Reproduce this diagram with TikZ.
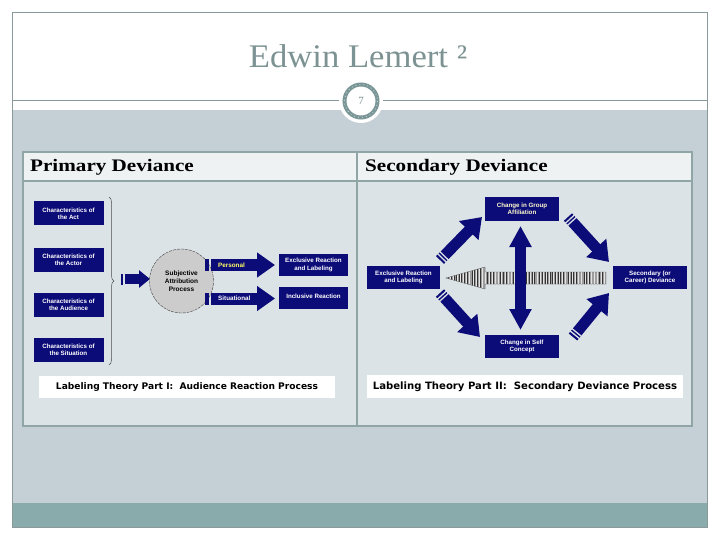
\documentclass[tikz,border=0pt]{standalone}
\usepackage{fontspec}
\setmainfont{Liberation Serif}
\newfontfamily\dsans{Liberation Sans}
\newfontfamily\capfont{DejaVu Sans}
\usetikzlibrary{calc,decorations.pathreplacing,arrows.meta}
\definecolor{navy}{HTML}{0C0C78}
\definecolor{band}{HTML}{C5D0D6}
\definecolor{teal}{HTML}{8AABAB}
\definecolor{frame}{HTML}{8A9A9A}
\definecolor{tabline}{HTML}{8FA5A6}
\definecolor{headfill}{HTML}{EEF2F3}
\definecolor{cellfill}{HTML}{DCE3E6}
\definecolor{titlecol}{HTML}{7D9393}
\definecolor{ringcol}{HTML}{7A9696}
\definecolor{yel}{HTML}{FFFF66}
\tikzset{
  navybox/.style={fill=navy, text=white, font=\dsans\bfseries\fontsize{6.2}{7.2}\selectfont, align=center, inner sep=0pt},
  caption/.style={fill=white, inner sep=0pt},
  header/.style={font=\bfseries\fontsize{17.6}{19}\selectfont, anchor=base west, inner sep=0pt},
  fat/.style={navy, line width=12pt, -{Triangle[width=24pt,length=18pt]}},
  diag/.style={navy, line width=11pt, -{Triangle[width=26pt,length=19pt]}},
  stripes/.style={cellfill, line width=13pt, dash pattern=on 0pt off 2.2pt on 1.3pt off 1.7pt on 1.3pt off 200pt},
  lbl/.style={font=\dsans\bfseries\fontsize{6.3}{7.5}\selectfont, anchor=west, inner sep=0pt},
}
\begin{document}
\begin{tikzpicture}[x=1pt,y=-1pt]
\useasboundingbox (0,0) rectangle (720,540);
\fill[white] (0,0) rectangle (720,540);
% slide frame and bands
\fill[band] (12,110) rectangle (707,503);
\fill[teal] (12,503) rectangle (707,527);
\draw[frame, line width=0.8pt] (12,12) rectangle (707,527);
\draw[frame, line width=0.8pt] (12,100) -- (707,100);
% title
\node[font=\fontsize{33}{36}\selectfont, text=titlecol, anchor=base] (title) at (358,68) {\scalebox{1.05}[1]{Edwin Lemert ²}};
% page number circle
\fill[white] (361,101) circle (22);
\draw[ringcol, line width=4pt] (361,101) circle (16.5);
\draw[white!70!ringcol, line width=0.6pt, dash pattern=on 1pt off 3pt] (361,101) circle (16.5);
\node[font=\fontsize{11}{12}\selectfont, text=titlecol] (pnum) at (361,101) {7};
% table
\fill[headfill] (23,152) rectangle (692,181);
\fill[cellfill] (23,181) rectangle (692,426);
\draw[tabline, line width=1.5pt] (23,152) rectangle (692,426);
\draw[tabline, line width=1.5pt] (23,181) -- (692,181);
\draw[tabline, line width=1.5pt] (357,152) -- (357,426);
\node[header] (h1) at (30,172) {\scalebox{1.2}[1]{Primary Deviance}};
\node[header] (h2) at (365,172) {\scalebox{1.2}[1]{Secondary Deviance}};

% ---------- left diagram ----------
\node[navybox, minimum width=70pt, minimum height=24pt] (act) at (68.5,213.5) {Characteristics of\\the Act};
\node[navybox, minimum width=70pt, minimum height=24pt] (actor) at (68.5,259.5) {Characteristics of\\the Actor};
\node[navybox, minimum width=70pt, minimum height=24pt] (aud) at (68.5,304.5) {Characteristics of\\the Audience};
\node[navybox, minimum width=70pt, minimum height=24pt] (sit) at (68.5,349.5) {Characteristics of\\the Situation};
\draw[black!70, line width=0.5pt, decorate, decoration={brace, amplitude=5pt}] (109,197) -- (109,365);
% small arrow to circle
\coordinate (sa1) at (124.5,279);
\coordinate (sa2) at (150,279);
\fill[navy] (121,273.5) rectangle (123,284.5);
\draw[navy, line width=10pt, -{Triangle[width=17pt,length=11pt]}] (sa1) -- (sa2);
% circle
\node[circle, draw=black!75, dash pattern=on 3pt off 1pt, fill=black!20, minimum size=64pt, inner sep=0pt, align=center, font=\dsans\bfseries\fontsize{6.5}{8}\selectfont] (sap) at (181.5,281) {Subjective\\Attribution\\Process};
% personal / situational arrows
\coordinate (p1) at (210.5,265);
\coordinate (p2) at (275,265);
\coordinate (s1) at (210.5,298.5);
\coordinate (s2) at (275,298.5);
\fill[navy] (205,259) rectangle (208.5,271);
\fill[navy] (205,292.5) rectangle (208.5,304.5);
\draw[fat] (p1) -- (p2);
\draw[fat] (s1) -- (s2);
\node[lbl, text=yel] (pers) at (218,265) {Personal};
\node[lbl, text=white] (situ) at (218,298.5) {Situational};
\node[navybox, minimum width=69pt, minimum height=22pt] (excl) at (313.5,265) {Exclusive Reaction\\and Labeling};
\node[navybox, minimum width=69pt, minimum height=22pt] (incl) at (313.5,298) {\raisebox{4pt}{Inclusive Reaction}};
\node[caption, minimum width=296pt, minimum height=22pt, font=\capfont\bfseries\fontsize{9.1}{10}\selectfont] (cap1) at (187,387) {Labeling Theory Part I:\ \ Audience Reaction Process};

% ---------- right diagram ----------
\node[navybox, minimum width=74pt, minimum height=24pt, text=white!80!yellow] (grp) at (522,209) {Change in Group\\Affiliation};
\node[navybox, minimum width=73pt, minimum height=23pt] (exr) at (403.5,277.5) {Exclusive Reaction\\and Labeling};
\node[navybox, minimum width=74pt, minimum height=23pt] (sec) at (650,277.5) {Secondary (or\\Career) Deviance};
\node[navybox, minimum width=74pt, minimum height=23pt] (self) at (522,346.5) {Change in Self\\Concept};
% big grey arrow pointing left
\begin{scope}
  \path[clip] (446,278) -- (485,267) -- (485,272) -- (606,272) -- (606,284) -- (485,284) -- (485,289) -- cycle;
  \fill[black!38] (440,260) rectangle (610,295);
  \foreach \x in {446,448.6,...,606}{\draw[black!80, line width=0.4pt] (\x,260) -- (\x,295);}
  \foreach \x in {447.3,450.5,...,605}{\draw[black!10, line width=0.6pt] (\x,260) -- (\x,295);}
\end{scope}
\draw[black!60, line width=0.3pt] (446,278) -- (485,267) -- (485,272) -- (606,272) -- (606,284) -- (485,284) -- (485,289) -- cycle;
% vertical double arrow
\coordinate (vt) at (520.5,226);
\coordinate (vb) at (520.5,330);
\draw[navy, line width=11pt, {Triangle[width=21pt,length=21pt]}-{Triangle[width=21pt,length=21pt]}] (vt) -- (vb);
% diagonal arrows
\coordinate (ul1) at (440,260);  \coordinate (ul2) at (482,217);
\coordinate (ur1) at (568,217);  \coordinate (ur2) at (609,262);
\coordinate (ll1) at (440,293);  \coordinate (ll2) at (480,337);
\coordinate (lr1) at (573,337);  \coordinate (lr2) at (609,293);
\draw[diag] (ul1) -- (ul2);
\draw[diag] (ur1) -- (ur2);
\draw[diag] (ll1) -- (ll2);
\draw[diag] (lr1) -- (lr2);
\draw[stripes] (ul1) -- (ul2);
\draw[stripes] (ur1) -- (ur2);
\draw[stripes] (ll1) -- (ll2);
\draw[stripes] (lr1) -- (lr2);
\node[caption, minimum width=316pt, minimum height=23pt, font=\capfont\bfseries\fontsize{10.1}{11}\selectfont] (cap2) at (525,386.5) {Labeling Theory Part II:\ \ Secondary Deviance Process};
\end{tikzpicture}
\end{document}
